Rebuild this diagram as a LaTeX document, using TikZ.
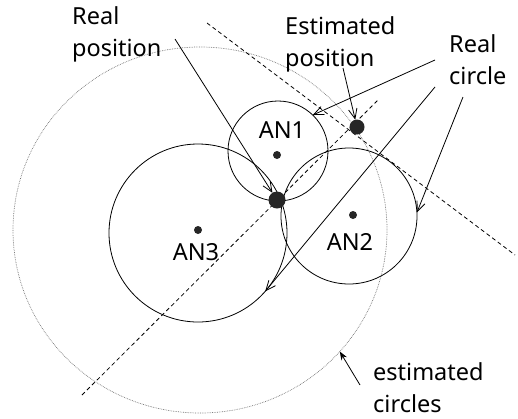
\documentclass[tikz,border=0pt]{standalone}
\usepackage{fontspec}
\setmainfont{Noto Sans}
\usetikzlibrary{arrows.meta,shapes.geometric}

\begin{document}
\begin{tikzpicture}[x=1pt,y=-1pt,font=\fontsize{23.5}{32}\selectfont,
  ring/.style={draw,circle,inner sep=0pt,outer sep=0pt,line width=0.8pt},
  dot/.style={circle,fill=black!85,inner sep=0pt,outer sep=0pt,minimum size=#1},
  lbl/.style={align=left,inner sep=0pt,anchor=north west},
  arr/.style={-{Straight Barb[length=3.5mm,width=3mm]},line width=0.8pt},
  guide/.style={dash pattern=on 4pt off 3pt,line width=0.8pt}]
\useasboundingbox (0,0) rectangle (518,418);
\node[draw=black!55,densely dotted,ellipse,line width=0.7pt,minimum width=374,minimum height=366,inner sep=0pt,outer sep=0pt] (big) at (200,230) {};
\node[ring,minimum size=100] (c1) at (278,151) {};
\node[ring,minimum size=136] (c2) at (349,216) {};
\node[ring,minimum size=178] (c3) at (198,233) {};
\coordinate (g1) at (207,23);
\coordinate (g2) at (515,255);
\coordinate (g3) at (82,395);
\coordinate (g4) at (378,100);
\draw[guide] (g1) -- (g2);
\draw[guide] (g3) -- (g4);
\node[dot=8] (an1) at (277,155) {};
\node[dot=8] (an2) at (353,215) {};
\node[dot=8] (an3) at (198,230) {};
\node[dot=17] (rp) at (277,200) {};
\node[dot=15] (ep) at (357,127) {};
\node (t1) at (282,130) {AN1};
\node (t2) at (350,242) {AN2};
\node (t3) at (196,252) {AN3};
\node[lbl] (lblreal) at (72,6) {Real\\position};
\node[lbl] (lblest) at (285,16) {Estimated\\position};
\node[lbl] (lblcircle) at (449,34) {Real\\circle};
\node[lbl] (lblestc) at (373,362) {estimated\\circles};
\coordinate (s1) at (175,39);
\coordinate (s2) at (343,68);
\coordinate (s3) at (435,60);
\coordinate (s4) at (435,87);
\coordinate (s5) at (463,97);
\coordinate (s6) at (360,385);
\draw[arr] (s1) -- (rp);
\draw[arr] (s2) -- (ep);
\draw[arr] (s3) -- (c1.46);
\draw[arr] (s4) -- (c3.-41);
\draw[arr] (s5) -- (c2.3);
\draw[-{Stealth[length=3mm]},line width=0.8pt] (s6) -- (big.-41);
\end{tikzpicture}
\end{document}
